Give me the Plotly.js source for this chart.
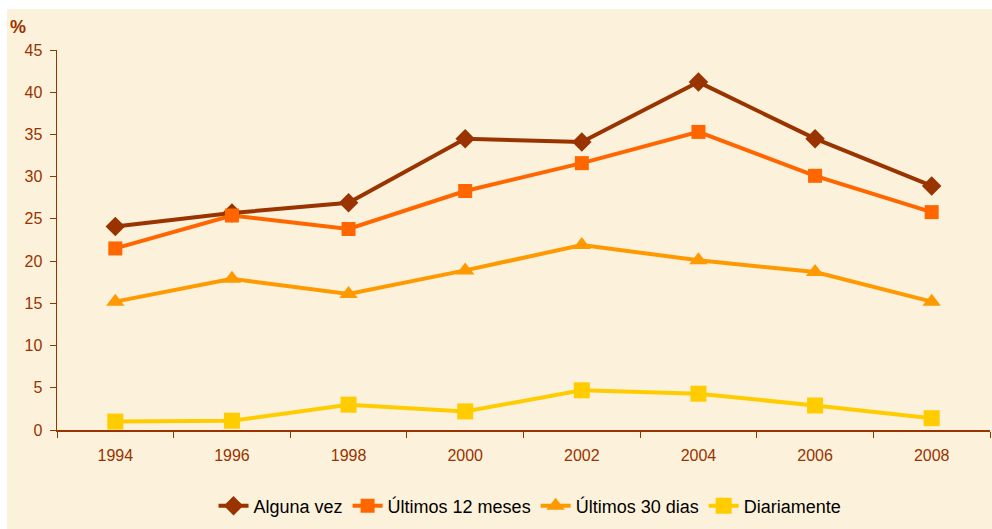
<!DOCTYPE html>
<html><head><meta charset="utf-8">
<script src="https://cdn.plot.ly/plotly-3.0.1.min.js"></script>
<style>html,body{margin:0;padding:0;background:#fff}#chart{width:992px;height:529px}</style>
</head><body><div id="chart"></div>
<script>
const years = ['1994','1996','1998','2000','2002','2004','2006','2008'];
const algunaVez = [24.1, 25.7, 26.9, 34.5, 34.1, 41.2, 34.5, 28.9];
const ultimos12 = [21.5, 25.4, 23.8, 28.3, 31.6, 35.3, 30.1, 25.8];
const ultimos30 = [15.2, 17.9, 16.1, 18.9, 21.9, 20.1, 18.7, 15.2];
const diariamente = [1.0, 1.1, 3.0, 2.2, 4.7, 4.3, 2.9, 1.4];
const seriesNames = ['Alguna vez', 'Últimos 12 meses', 'Últimos 30 dias', 'Diariamente'];
const yTicks = [0,5,10,15,20,25,30,35,40,45];

const colors = ['#993300', '#FF6600', '#FF9900', '#FFCC00'];
const symbols = ['diamond', 'square', 'triangle-up', 'square'];
const sizes = [15, 14, 16, 16];
const data = [algunaVez, ultimos12, ultimos30, diariamente].map((v, i) => ({
  type: 'scatter', mode: 'lines+markers', x: years, y: v, name: seriesNames[i],
  line: {color: colors[i], width: 4},
  marker: {symbol: symbols[i], size: sizes[i], color: colors[i]}
}));

const W = 933, H = 380;
const layout = {
  width: 992, height: 529,
  margin: {l: 57, r: 2, t: 50, b: 99},
  paper_bgcolor: '#ffffff',
  plot_bgcolor: 'rgba(0,0,0,0)',
  font: {family: 'Arial, "Liberation Sans", sans-serif', color: '#993300'},
  showlegend: true,
  legend: {orientation: 'h', x: 0.507, xanchor: 'center', y: -0.2, yanchor: 'middle',
           font: {size: 18, color: '#000000', family: 'Arial, "Liberation Sans", sans-serif'},
           bgcolor: 'rgba(0,0,0,0)', tracegroupgap: 0},
  xaxis: {type: 'category', tickson: 'boundaries', ticks: 'outside', ticklen: 6, tickcolor: '#993300',
          showline: true, linecolor: '#993300', linewidth: 1.5, showgrid: false, zeroline: false,
          ticklabelstandoff: 10,
          tickfont: {size: 16, color: '#993300', family: '"Liberation Sans Narrow", "Arial Narrow", Arial'},
          range: [-0.5, 7.5], fixedrange: true},
  yaxis: {range: [0, 45], tickvals: yTicks, ticks: 'outside', ticklen: 6, tickcolor: '#993300',
          showline: true, linecolor: '#993300', linewidth: 1.5, showgrid: false, zeroline: false,
          ticklabelstandoff: 4,
          tickfont: {size: 16, color: '#993300', family: 'Arial, "Liberation Sans", sans-serif'}, fixedrange: true},
  shapes: [{type: 'rect', xref: 'paper', yref: 'paper', layer: 'below',
            x0: (7 - 57) / W, x1: (992 - 57) / W, y0: (430 - 529) / H, y1: (430 - 9) / H,
            fillcolor: '#FCF1DA', line: {width: 0}}],
  annotations: [{text: '<b>%</b>', xref: 'paper', yref: 'paper', x: (18 - 57) / W, y: (430 - 27) / H,
                 xanchor: 'center', yanchor: 'middle',
                 showarrow: false, font: {size: 18, color: '#993300', family: 'Arial, "Liberation Sans", sans-serif'}}]
};
Plotly.newPlot('chart', data, layout, {displayModeBar: false, staticPlot: true});
</script></body></html>
